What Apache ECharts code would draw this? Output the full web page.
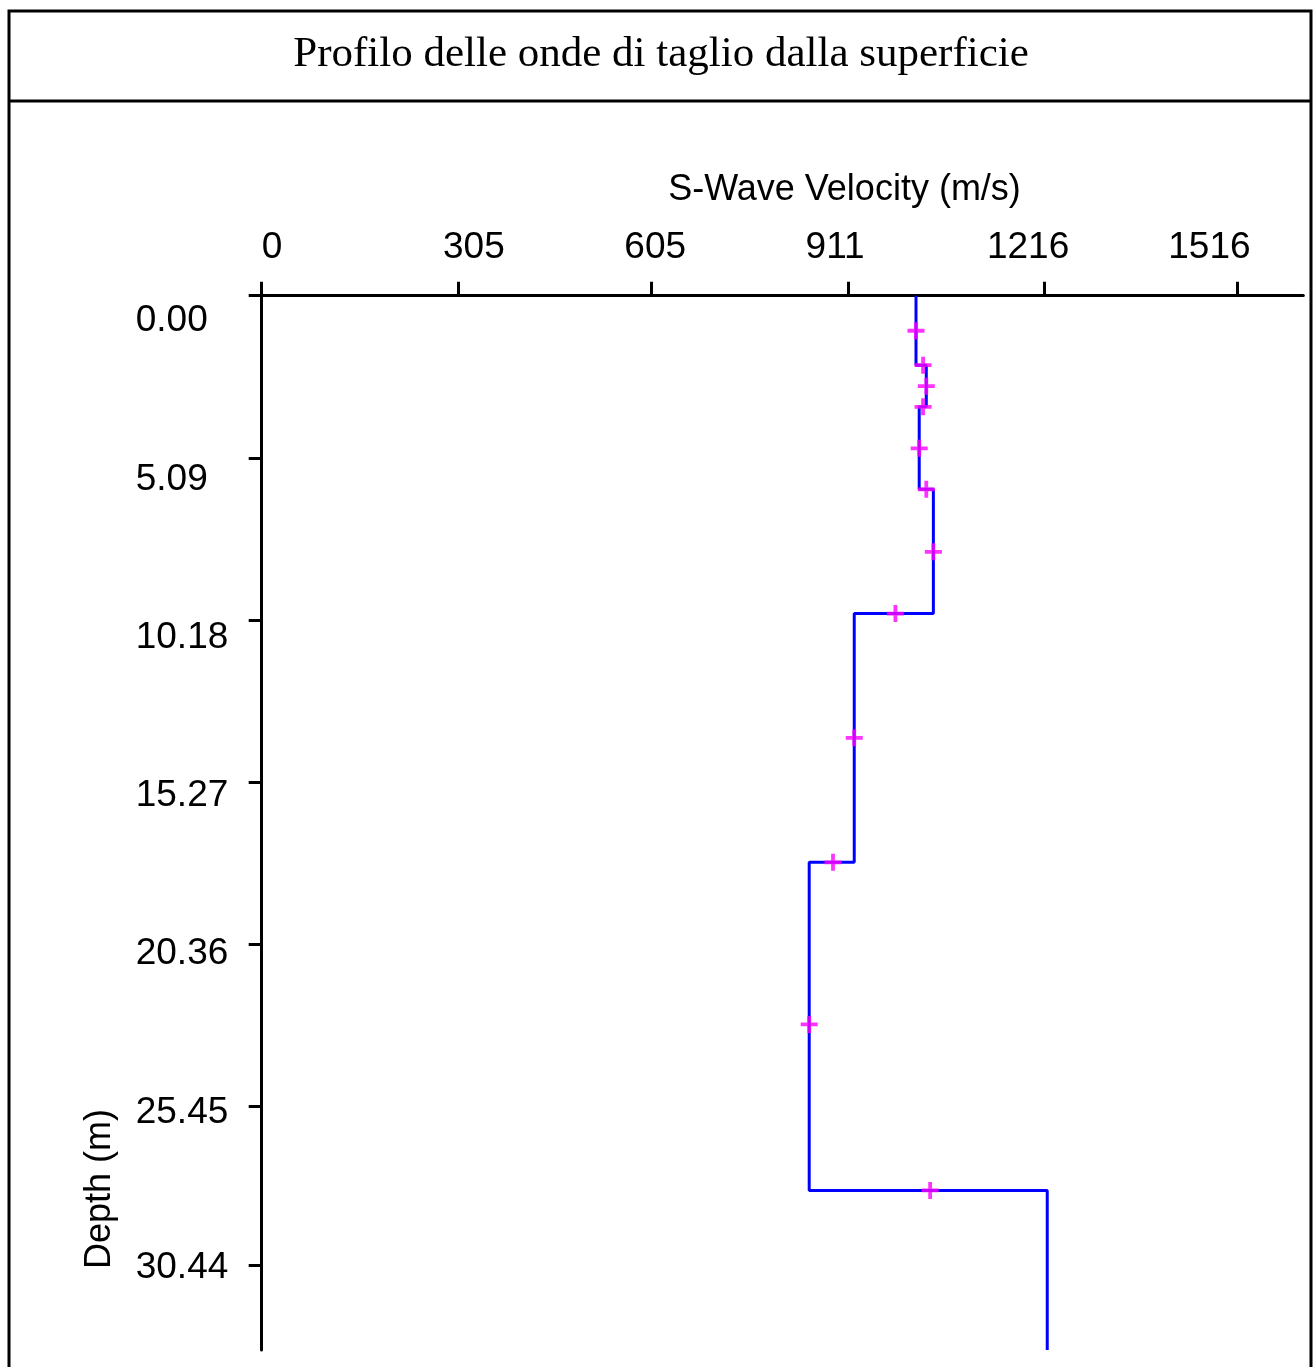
<!DOCTYPE html>
<html>
<head>
<meta charset="utf-8">
<title>Profilo delle onde di taglio</title>
<script src="https://cdn.jsdelivr.net/npm/echarts@6/dist/echarts.min.js"></script>
<style>
    html, body { margin: 0; padding: 0; background: #fff; }
    #main { width: 1313px; height: 1367px; }
</style>
</head>
<body>
<div id="main"></div>
<script>
// velocita' degli strati (m/s) e profondita' della base di ogni strato (m)
var layerVelocity = [1017, 1033, 1022, 1044, 921, 851, 1221];
var layerBottom = [2.18, 3.49, 6.08, 9.98, 17.79, 28.09, 33.1];

// punti misurati (croci magenta)
var pointVelocity = [1017, 1028, 1033, 1028, 1022, 1033, 1044, 985, 921, 888, 851, 1039];
var pointDepth = [1.10, 2.18, 2.84, 3.49, 4.79, 6.08, 8.04, 9.98, 13.88, 17.79, 22.88, 28.09];

// etichette degli assi
var velocityTicks = [0, 305, 605, 911, 1216, 1516];
var velocityLabels = ['0', '305', '605', '911', '1216', '1516'];
var depthTicks = [0, 5.09, 10.18, 15.27, 20.36, 25.45, 30.44];
var depthLabels = ['0.00', '5.09', '10.18', '15.27', '20.36', '25.45', '30.44'];

var labelFont = 'Liberation Sans';

// profilo a gradini
var stepLine = [];
var layerTop = 0;
for (var i = 0; i < layerVelocity.length; i++) {
    stepLine.push([layerVelocity[i], layerTop]);
    stepLine.push([layerVelocity[i], layerBottom[i]]);
    layerTop = layerBottom[i];
}
var points = pointVelocity.map(function (v, i) { return [v, pointDepth[i]]; });

var myChart = echarts.init(document.getElementById('main'));
var option = {
    animation: false,
    backgroundColor: '#fff',
    title: {
        text: 'Profilo delle onde di taglio dalla superficie',
        left: 656,
        top: 50,
        textAlign: 'center',
        textVerticalAlign: 'middle',
        textStyle: { fontFamily: 'Liberation Serif', fontSize: 43, fontWeight: 'normal', color: '#000' }
    },
    grid: { left: 261.7, right: 9.7, top: 295.7, bottom: 17, outerBoundsMode: 'none', containLabel: false },
    xAxis: [
        {
            // asse dei dati
            type: 'value',
            position: 'top',
            min: 0,
            max: 1619,
            offset: 3,
            axisLine: { lineStyle: { color: '#000', width: 3 } },
            axisTick: { show: true, customValues: velocityTicks, length: 14, lineStyle: { color: '#000', width: 3 } },
            axisLabel: { show: false },
            splitLine: { show: false }
        },
        {
            // asse delle sole etichette (passo costante come nell'originale)
            type: 'value',
            position: 'top',
            min: 0,
            max: 5.745,
            axisLine: { show: false },
            axisTick: { show: false },
            splitLine: { show: false },
            axisLabel: {
                customValues: [0, 1, 2, 3, 4, 5],
                formatter: function (v) { return velocityLabels[Math.round(v)]; },
                align: 'left',
                verticalAlign: 'middle',
                margin: 48,
                color: '#000',
                fontFamily: labelFont,
                fontSize: 37
            },
            name: 'S-Wave Velocity (m/s)',
            nameLocation: 'middle',
            nameGap: 105.7,
            nameTextStyle: {
                color: '#000', fontFamily: labelFont, fontSize: 36,
                verticalAlign: 'middle', padding: [0, 0, 0, 124]
            }
        }
    ],
    yAxis: [
        {
            type: 'value',
            position: 'left',
            inverse: true,
            min: 0,
            max: 33.1,
            offset: 3,
            axisLine: { lineStyle: { color: '#000', width: 3 } },
            axisTick: { show: true, customValues: depthTicks, length: 13, lineStyle: { color: '#000', width: 3 } },
            axisLabel: { show: false },
            splitLine: { show: false }
        },
        {
            // etichette della profondita' (passo leggermente diverso dalle tacche)
            type: 'value',
            position: 'left',
            inverse: true,
            min: -0.823,
            max: 33.089,
            axisLine: { show: false },
            axisTick: { show: false },
            splitLine: { show: false },
            axisLabel: {
                customValues: depthTicks,
                formatter: function (v) { return depthLabels[depthTicks.indexOf(v)]; },
                align: 'left',
                margin: 126,
                color: '#000',
                fontFamily: labelFont,
                fontSize: 37
            }
        }
    ],
    graphic: [
        { type: 'rect', shape: { x: 9, y: 11, width: 1302, height: 1400 }, style: { fill: 'none', stroke: '#000', lineWidth: 3 } },
        { type: 'line', shape: { x1: 9, y1: 101, x2: 1311, y2: 101 }, style: { stroke: '#000', lineWidth: 3 } },
        {
            type: 'text', x: 100, y: 1189, rotation: Math.PI / 2,
            style: {
                text: 'Depth (m)', font: '36px "Liberation Sans"', fill: '#000',
                align: 'center', verticalAlign: 'middle', textAlign: 'center', textVerticalAlign: 'middle'
            }
        }
    ],
    series: [
        {
            type: 'line',
            xAxisIndex: 0,
            yAxisIndex: 0,
            data: stepLine,
            showSymbol: false,
            lineStyle: { color: '#0000ff', width: 3 },
            z: 2
        },
        {
            type: 'scatter',
            xAxisIndex: 0,
            yAxisIndex: 0,
            data: points,
            symbol: 'path://M0,7h7v-7h4v7h7v4h-7v7h-4v-7h-7z',
            symbolSize: 17,
            itemStyle: { color: '#ff00ff' },
            z: 3
        }
    ]
};
myChart.setOption(option);
</script>
</body>
</html>
